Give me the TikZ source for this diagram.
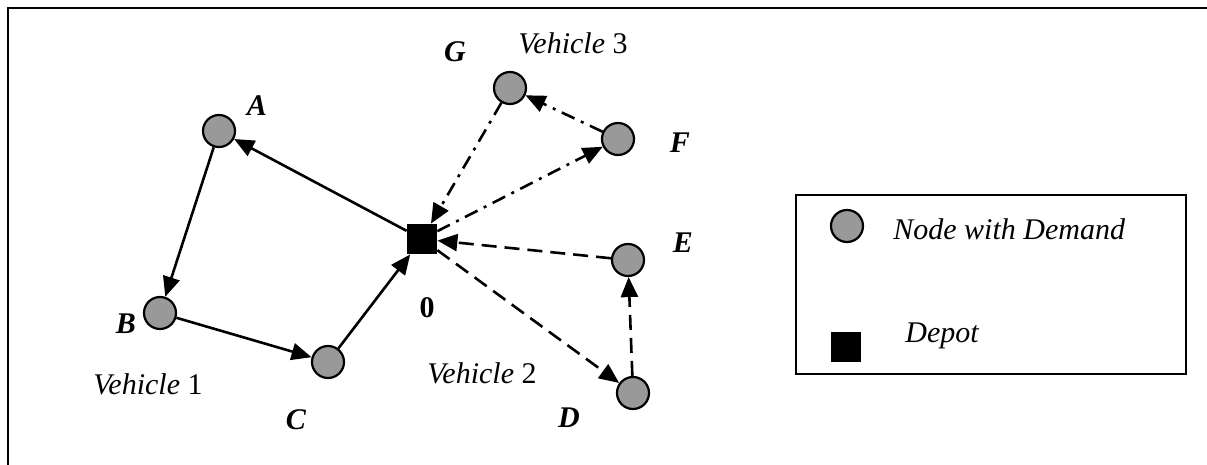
\documentclass[tikz,border=0pt]{standalone}
\usepackage{fontspec}
\setmainfont{Liberation Serif}
\usetikzlibrary{arrows.meta}
\begin{document}
\begin{tikzpicture}[x=0.5pt,y=-0.5pt,
  every node/.style={font=\fontsize{15}{17}\selectfont},
  demand/.style={circle,draw,line width=1.1pt,fill=black!40,minimum size=16pt,inner sep=0pt},
  depot/.style={rectangle,fill=black,minimum size=15pt,inner sep=0pt},
  lbl/.style={font=\fontsize{15}{17}\selectfont\bfseries\itshape,inner sep=0pt},
  vlbl/.style={inner sep=0pt},
  route/.style={line width=1.3pt,-{Triangle[length=10pt,width=8.5pt]}},
  r2/.style={route,dash pattern=on 7.5pt off 4pt},
  r3/.style={route,dash pattern=on 7pt off 3.5pt on 1.5pt off 3.5pt},
  frame/.style={line width=1pt}]
\useasboundingbox (0,0) rectangle (1207,465);
% outer frame
\coordinate (fbl) at (8,466);
\coordinate (ftl) at (8,8);
\coordinate (ftr) at (1208,8);
\draw[frame] (fbl) -- (ftl) -- (ftr);
% nodes
\node[depot] (O) at (422,239) {};
\node[demand] (A) at (219,131) {};
\node[demand] (B) at (160,313) {};
\node[demand] (C) at (328,362) {};
\node[demand] (D) at (633,393) {};
\node[demand] (E) at (628,260) {};
\node[demand] (F) at (618,139) {};
\node[demand] (G) at (510,88) {};
% labels
\node[lbl] (lA) at (257,106) {A};
\node[lbl] (lB) at (126,324) {B};
\node[lbl] (lC) at (296,420) {C};
\node[lbl] (lD) at (569,418) {D};
\node[lbl] (lE) at (683,243) {E};
\node[lbl] (lF) at (680,143) {F};
\node[lbl] (lG) at (455,52) {G};
\node[inner sep=0pt,font=\fontsize{15}{17}\selectfont\bfseries] (l0) at (427,308) {0};
\node[vlbl] (v1) at (148,384) {\textit{Vehicle} 1};
\node[vlbl] (v2) at (482,373) {\textit{Vehicle} 2};
\node[vlbl] (v3) at (573,43) {\textit{Vehicle} 3};
% routes
\draw[route] (O) -- (A);
\draw[route] (A) -- (B);
\draw[route] (B) -- (C);
\draw[route] (C) -- (O);
\draw[r2] (O) -- (D);
\draw[r2] (D) -- (E);
\draw[r2] (E) -- (O);
\draw[r3] (O) -- (F);
\draw[r3] (F) -- (G);
\draw[r3] (G) -- (O);
% legend
\node[draw,line width=1pt,minimum width=195pt,minimum height=89.5pt,inner sep=0pt] (leg) at (991,284.5) {};
\node[demand] (legc) at (847,226) {};
\node[anchor=west,inner sep=0pt,font=\fontsize{15}{17}\selectfont\itshape] (legct) at (893,229) {Node with Demand};
\node[depot] (legs) at (846,347) {};
\node[anchor=west,inner sep=0pt,font=\fontsize{15}{17}\selectfont\itshape] (legst) at (905,336) {Depot};
\end{tikzpicture}
\end{document}
